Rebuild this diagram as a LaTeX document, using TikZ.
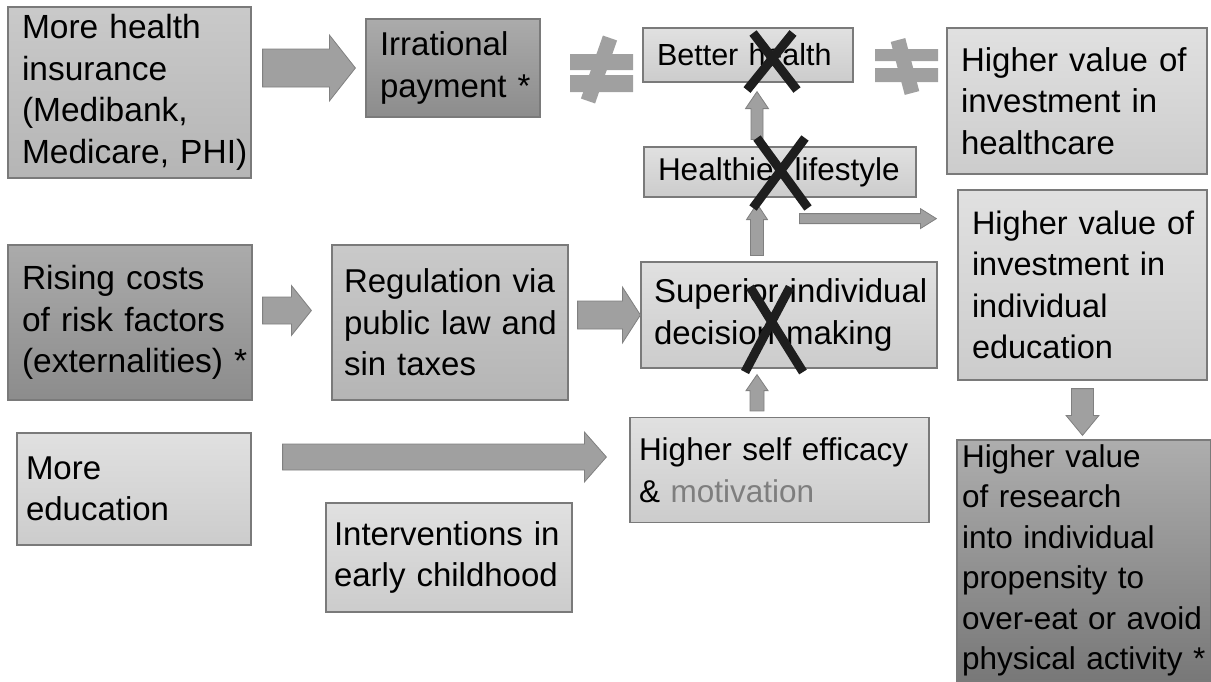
\documentclass[tikz,border=0pt]{standalone}
\usepackage{fontspec}
\setmainfont{Liberation Sans}
\usetikzlibrary{calc}
\definecolor{boxline}{HTML}{7A7A7A}
\definecolor{arrowgray}{HTML}{A0A0A0}
\definecolor{crossink}{HTML}{1E1E1E}
\definecolor{motgray}{HTML}{7E7E7E}
\tikzset{
  box/.style={draw=boxline, line width=1.2pt, align=left, inner ysep=2pt,
    font=\fontsize{33}{41.5}\selectfont,
    execute at begin node={\hyphenpenalty=10000\exhyphenpenalty=10000}},
  fs/.style={font=\fontsize{#1}{41.5}\selectfont},
  pale/.style={top color=black!12, bottom color=black!20},
  mid/.style={top color=black!21, bottom color=black!29},
  dark/.style={top color=black!33, bottom color=black!45},
  deep/.style={top color=black!32, bottom color=black!53},
  fatarrow/.style={fill=arrowgray, draw=arrowgray!80!black, line width=0.8pt},
  fat/.style n args={3}{to path={let \p1=(\tikztostart), \p2=(\tikztotarget),
    \p3=($(\p2)!#3!(\p1)$) in
    ($(\p1)!#1!90:(\p2)$) -- ($(\p3)!#1!-90:(\p1)$) -- ($(\p3)!#2!-90:(\p1)$) -- (\p2)
    -- ($(\p3)!#2!90:(\p1)$) -- ($(\p3)!#1!90:(\p1)$) -- ($(\p1)!#1!-90:(\p2)$) -- cycle}},
  noteq/.style={fill=arrowgray},
  cross/.style={draw=crossink, line width=9pt},
}
\begin{document}
\begin{tikzpicture}[x=1pt, y=-1pt]
  \useasboundingbox (0,0) rectangle (1211,681);
  \node[box, mid, fs=33.5, text width=215pt, inner xsep=14pt, minimum height=171pt] (ins) at (129.5,92.5) {More~health\\insurance\\(Medibank,\\Medicare,~PHI)};
  \node[box, dark, text width=146pt, inner xsep=14pt, minimum height=98pt] (irr) at (453,68) {Irrational\\payment~*};
  \node[box, pale, fs=30.5, text width=182pt, inner xsep=14pt, minimum height=54pt] (bet) at (748,55) {Better~health};
  \node[box, pale, text width=232pt, inner xsep=14pt, minimum height=146pt] (hci) at (1077,101) {Higher~value~of\\investment~in\\healthcare};
  \node[box, pale, fs=31.5, text width=244pt, inner xsep=14pt, minimum height=50pt] (hlf) at (780,172) {Healthier~lifestyle};
  \node[box, pale, fs=32.5, text width=221pt, inner xsep=14pt, minimum height=190pt] (hie) at (1082.5,285) {Higher~value~of\\investment~in\\individual\\education};
  \node[box, dark, fs=33.5, text width=216pt, inner xsep=14pt, minimum height=155pt] (ris) at (130,322.5) {Rising~costs\\of~risk~factors\\(externalities)~*};
  \node[box, mid, text width=212pt, inner xsep=12pt, minimum height=155pt] (reg) at (450,322.5) {Regulation~via\\public~law~and\\sin~taxes};
  \node[box, pale, text width=270pt, inner xsep=13pt, minimum height=106pt] (sup) at (789,315) {Superior~individual\\decision~making};
  \node[box, pale, text width=216pt, inner xsep=9pt, minimum height=112pt] (edu) at (134,489) {More\\education};
  \node[box, pale, fs=31.5, text width=281pt, inner xsep=9pt, minimum height=105pt] (sel) at (779.5,470) {Higher~self~efficacy\\\&~\textcolor{motgray}{motivation}};
  \node[box, pale, text width=230pt, inner xsep=8pt, minimum height=109pt] (int) at (449,557.5) {Interventions~in\\early~childhood};
  \node[box, deep, font=\fontsize{31.5}{40.5}\selectfont, text width=244pt, inner xsep=5pt, minimum height=241pt] (res) at (1084,560.5) {Higher~value\\of~research\\into~individual\\propensity~to\\over-eat~or~avoid\\physical~activity~*};

  \coordinate (spine) at (757,0);
  \coordinate (branch) at ($(hlf.south west)+(156,21)$);
  \draw[fatarrow, fat={19pt}{33pt}{26pt}] ([xshift=11pt]ins.east |- irr.west) to ([xshift=-10pt]irr.west);
  \draw[fatarrow, fat={6pt}{11.5pt}{17pt}] ([yshift=7pt]hlf.north -| spine) to ([yshift=-9pt]bet.south -| spine);
  \draw[fatarrow, fat={6.5pt}{10.5pt}{16pt}] ([yshift=6pt]sup.north -| spine) to ([yshift=-6pt]hlf.south -| spine);
  \draw[fatarrow, fat={5pt}{10pt}{16pt}] (branch) to ([xshift=-21pt]hie.west |- branch);
  \draw[fatarrow, fat={13.5pt}{25pt}{20pt}] ([xshift=10pt,yshift=12pt]ris.east) to ([xshift=-20pt,yshift=12pt]reg.west);
  \draw[fatarrow, fat={14pt}{28pt}{18pt}] ([xshift=9pt]reg.east |- sup.west) to (sup.west);
  \draw[fatarrow, fat={7pt}{11pt}{16pt}] ([yshift=6pt]sel.north -| spine) to ([yshift=-6pt]sup.south -| spine);
  \draw[fatarrow, fat={11pt}{16.5pt}{20pt}] ([yshift=-8pt]hie.south) to ([yshift=4pt]res.north -| hie.south);
  \draw[fatarrow, fat={13pt}{25pt}{22pt}] ([xshift=31pt,yshift=32pt]edu.east) to ([xshift=-23pt,yshift=13pt]sel.west);

  \fill[noteq] (570,54) rectangle (633,70) (570,75) rectangle (633,92);
  \draw[arrowgray, line width=15pt] (610,38) -- (588,101);
  \fill[noteq] (875,49) rectangle (938,61) (875,68) rectangle (938,82);
  \draw[arrowgray, line width=15pt] (898,40) -- (912,93);

  \draw[cross] (753,33) -- (797,90) (793,33) -- (747,90);
  \draw[cross] (757,138) -- (808,208) (805,138) -- (753,208);
  \draw[cross] (750,287) -- (803,372) (790,287) -- (745,372);
\end{tikzpicture}
\end{document}
